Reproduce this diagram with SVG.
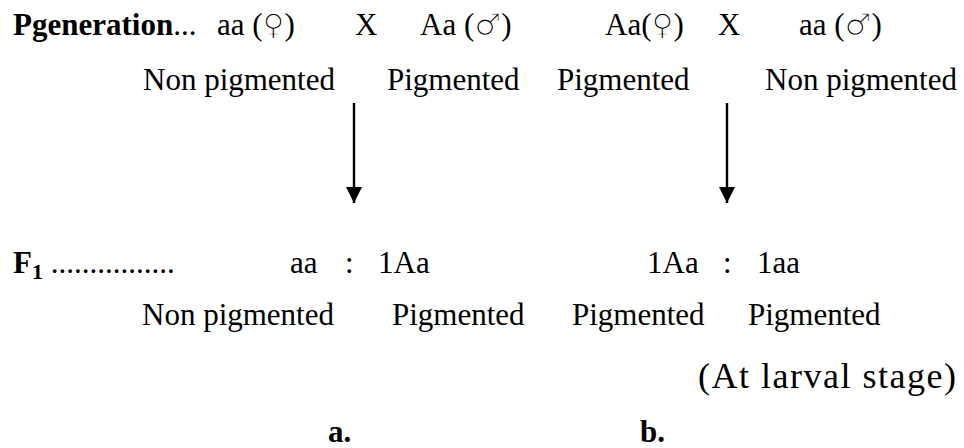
<svg xmlns="http://www.w3.org/2000/svg" width="964" height="448" viewBox="0 0 964 448">
<style>
text{font-family:"Liberation Serif","DejaVu Serif",serif;font-size:31px;fill:#000}
.b{font-weight:bold}
.sym{font-family:"DejaVu Sans","Liberation Serif",sans-serif;font-size:30px;font-weight:normal;stroke:#fff;stroke-width:1.3px}
.big{font-size:36px}
.arrow{stroke:#000;stroke-width:2.4;fill:none}
</style>
<defs>
<marker id="ah" viewBox="0 0 16 16" refX="16" refY="8" markerWidth="16" markerHeight="16" markerUnits="userSpaceOnUse" orient="auto">
<path d="M0,0 L16,8 L0,16 Z" fill="#000"/>
</marker>
</defs>
<rect width="964" height="448" fill="#fff"/>
<g id="p-generation">
<text x="13" y="35"><tspan class="b">Pgeneration</tspan>...</text>
</g>
<g id="cross-a">
<text x="217" y="35">aa (<tspan class="sym">♀</tspan>)</text>
<text x="355" y="35">X</text>
<text x="420" y="35">Aa (<tspan class="sym">♂</tspan>)</text>
</g>
<g id="cross-b">
<text x="605" y="35">Aa(<tspan class="sym">♀</tspan>)</text>
<text x="718" y="35">X</text>
<text x="799" y="35">aa (<tspan class="sym">♂</tspan>)</text>
</g>
<g id="parent-phenotypes">
<text x="143" y="90">Non pigmented</text>
<text x="387" y="90">Pigmented</text>
<text x="557" y="90">Pigmented</text>
<text x="765" y="90">Non pigmented</text>
</g>
<g id="connectors">
<line class="arrow" x1="354" y1="103" x2="354" y2="203" marker-end="url(#ah)"/>
<line class="arrow" x1="727" y1="103" x2="727" y2="203" marker-end="url(#ah)"/>
</g>
<g id="f1">
<text x="13" y="273"><tspan class="b">F</tspan><tspan class="b" font-size="22" dy="6">1</tspan><tspan dy="-6"> ................</tspan></text>
</g>
<g id="f1-a">
<text x="290" y="273">aa</text>
<text x="345" y="273">:</text>
<text x="378" y="273">1Aa</text>
</g>
<g id="f1-b">
<text x="647" y="273">1Aa</text>
<text x="723" y="273">:</text>
<text x="757" y="273">1aa</text>
</g>
<g id="f1-phenotypes">
<text x="142" y="325">Non pigmented</text>
<text x="392" y="325">Pigmented</text>
<text x="572" y="325">Pigmented</text>
<text x="748" y="325">Pigmented</text>
<text class="big" x="698" y="388" textLength="258" lengthAdjust="spacing">(At larval stage)</text>
</g>
<g id="labels">
<text class="b" x="328" y="442">a.</text>
<text class="b" x="640" y="442">b.</text>
</g>
</svg>
